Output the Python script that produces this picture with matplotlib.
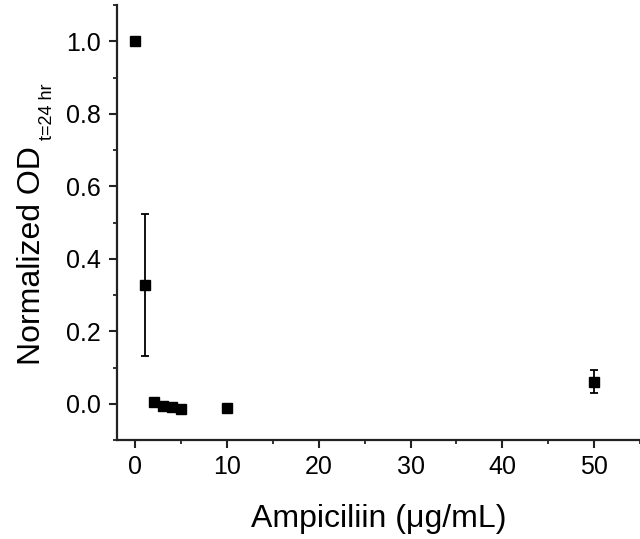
import matplotlib
matplotlib.use("Agg")
import matplotlib.pyplot as plt
from matplotlib.ticker import MultipleLocator

plt.rcParams['font.family'] = ['Liberation Sans', 'DejaVu Sans']

# Data
ampicillin = [0, 1, 2, 3, 4, 5, 10, 50]
od_norm = [1.0, 0.328, 0.005, -0.005, -0.009, -0.014, -0.011, 0.061]
od_err = [0.0, 0.195, 0.0, 0.0, 0.0, 0.0, 0.0, 0.032]

fig = plt.figure(figsize=(6.4, 5.39), dpi=100)
ax = fig.add_axes([117 / 640, 99 / 539, 523 / 640, 435 / 539])

ax.errorbar(ampicillin, od_norm, yerr=od_err, fmt='s', color='black',
            markersize=7.3, ecolor='black', elinewidth=1.3, capsize=3,
            capthick=1.3)

ax.set_xlim(-2, 55)
ax.set_ylim(-0.1, 1.1)
ax.xaxis.set_major_locator(MultipleLocator(10))
ax.xaxis.set_minor_locator(MultipleLocator(5))
ax.yaxis.set_major_locator(MultipleLocator(0.2))
ax.yaxis.set_minor_locator(MultipleLocator(0.1))

ax.spines['top'].set_visible(False)
ax.spines['right'].set_visible(False)
for s in ['left', 'bottom']:
    ax.spines[s].set_linewidth(1.6)
    ax.spines[s].set_color('#222222')

ax.tick_params(which='major', direction='out', length=5.8, width=1.5,
               labelsize=18, color='#222222')
ax.tick_params(which='minor', direction='out', length=3, width=1.3,
               color='#222222')
ax.tick_params(axis='x', which='major', pad=5)
ax.tick_params(axis='y', which='major', pad=6)

ax.set_xlabel('Ampiciliin (\u03bcg/mL)', fontsize=23, labelpad=18)

# y label with a small subscript
fig.text(40 / 640, (539 - 365) / 539, 'Normalized OD', fontsize=23,
         rotation=90, rotation_mode='anchor', ha='left', va='baseline')
fig.text(52 / 640, (539 - 140) / 539, 't=24 hr', fontsize=13,
         rotation=90, rotation_mode='anchor', ha='left', va='baseline')

fig.savefig('out.png', dpi=100)
